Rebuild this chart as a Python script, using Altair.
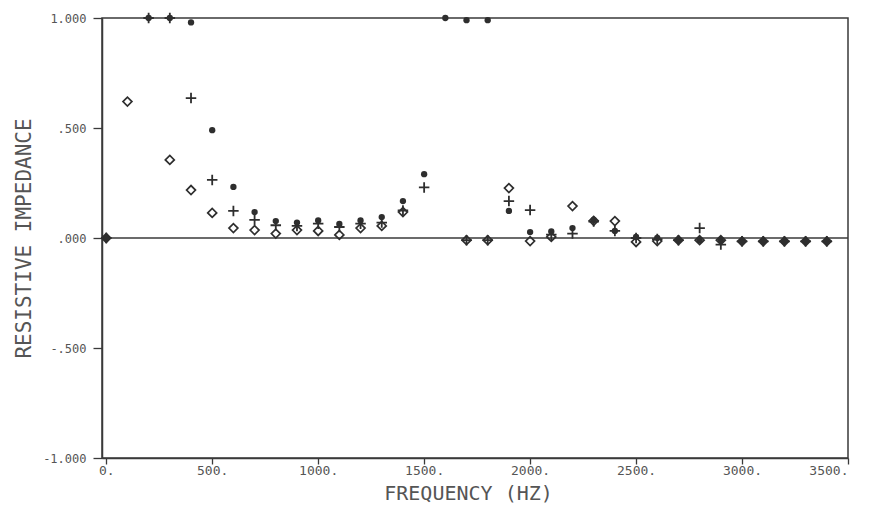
import altair as alt
import pandas as pd

freq = [0, 100, 200, 300, 400, 500, 600, 700, 800, 900, 1000, 1100, 1200, 1300,
        1400, 1500, 1600, 1700, 1800, 1900, 2000, 2100, 2200, 2300, 2400, 2500,
        2600, 2700, 2800, 2900, 3000, 3100, 3200, 3300, 3400]

dot = [0.0, None, 1.0, 1.0, 0.98, 0.49, 0.232, 0.118, 0.077, 0.07, 0.08, 0.064,
       0.08, 0.095, 0.168, 0.29, 1.0, 0.99, 0.99, 0.123, 0.027, 0.03, 0.045,
       0.082, 0.032, 0.005, 0.0, -0.01, -0.01, -0.01, -0.015, -0.015, -0.015,
       -0.015, -0.015]

plus = [0.0, None, 1.0, 1.0, 0.636, 0.264, 0.123, 0.082, 0.058, 0.055, 0.065,
        0.05, 0.065, 0.07, 0.125, 0.23, None, -0.01, -0.01, 0.168, 0.127, 0.015,
        0.02, 0.075, 0.032, 0.0, -0.005, -0.01, 0.045, -0.03, -0.015, -0.015,
        -0.015, -0.015, -0.015]

diamond = [0.0, 0.62, None, 0.355, 0.218, 0.114, 0.045, 0.036, 0.02, 0.036,
           0.032, 0.014, 0.045, 0.055, 0.118, None, None, -0.01, -0.01, 0.227,
           -0.014, 0.005, 0.145, 0.078, 0.077, -0.018, -0.014, -0.01, -0.01,
           -0.01, -0.015, -0.015, -0.015, -0.015, -0.015]

x_ticks = [0, 500, 1000, 1500, 2000, 2500, 3000, 3500]
y_ticks = [-1.0, -0.5, 0.0, 0.5, 1.0]

rows = []
for name, vals in (("dot", dot), ("plus", plus), ("diamond", diamond)):
    for f, v in zip(freq, vals):
        if v is not None:
            rows.append({"freq": f, "series": name, "value": v})
df = pd.DataFrame(rows)

INK = "#2e2e2e"
LINE = "#3a3a3a"
TXT = "#555555"
FONT = "DejaVu Sans Mono"

x_enc = alt.X(
    "freq:Q",
    scale=alt.Scale(domain=[-20, 3500], nice=False, zero=False),
    axis=alt.Axis(
        values=x_ticks,
        labelExpr="datum.value + '.'",
        grid=False,
        tickSize=6,
        labelPadding=0,
        labelFont=FONT,
        labelFontSize=13,
        labelColor=TXT,
        tickColor=LINE,
        domainColor=LINE,
        domainWidth=1.5,
        tickWidth=1.3,
        title="FREQUENCY (HZ)",
        titleFont=FONT,
        titleFontSize=20,
        titleFontWeight="normal",
        titleColor=TXT,
        titleX=366,
        titleY=35,
        titleAlign="center",
        titleBaseline="middle",
    ),
)

y_enc = alt.Y(
    "value:Q",
    scale=alt.Scale(domain=[-1, 1], nice=False, zero=False),
    axis=alt.Axis(
        values=y_ticks,
        labelExpr=("abs(datum.value) >= 1 ? (datum.value < 0 ? '-' : '') + format(abs(datum.value), '.3f')"
                   " : (datum.value < 0 ? '-' : '') + slice(format(abs(datum.value), '.3f'), 1)"),
        grid=False,
        tickSize=9,
        labelPadding=7,
        labelFont=FONT,
        labelFontSize=12,
        labelColor=TXT,
        tickColor=LINE,
        domainColor=LINE,
        domainWidth=1.5,
        tickWidth=1.3,
        title="RESISTIVE IMPEDANCE",
        titleFont=FONT,
        titleFontSize=21,
        titleFontWeight="normal",
        titleColor=TXT,
        titleAngle=270,
        titleX=-78,
        titleY=220,
        titleAlign="center",
        titleBaseline="middle",
    ),
)

base = alt.Chart(df)

zero_line = alt.Chart(pd.DataFrame({"value": [0.0]})).mark_rule(
    color=LINE, strokeWidth=1.5
).encode(y=alt.Y("value:Q", scale=alt.Scale(domain=[-1, 1], nice=False, zero=False)))

dots = base.transform_filter(alt.datum.series == "dot").mark_point(
    shape="circle", filled=True, size=40, color=INK, opacity=1
).encode(x=x_enc, y=y_enc)

pluses = base.transform_filter(alt.datum.series == "plus").mark_point(
    shape="M-1,0H1M0,-1V1", filled=False, size=110, color=INK, strokeWidth=1.8, opacity=1
).encode(x=x_enc, y=y_enc)

diamonds = base.transform_filter(alt.datum.series == "diamond").mark_point(
    shape="diamond", filled=False, size=80, color=INK, strokeWidth=1.7, opacity=1
).encode(x=x_enc, y=y_enc)

chart = alt.layer(zero_line, diamonds, pluses, dots).properties(
    width=746,
    height=440,
    padding={"left": 94, "top": 10, "right": 15, "bottom": 47},
    autosize=alt.AutoSizeParams(type="none"),
    background="white",
).configure_view(stroke=LINE, strokeWidth=1.5)

chart.save("out.html", embed_options={"renderer": "svg", "actions": False})
